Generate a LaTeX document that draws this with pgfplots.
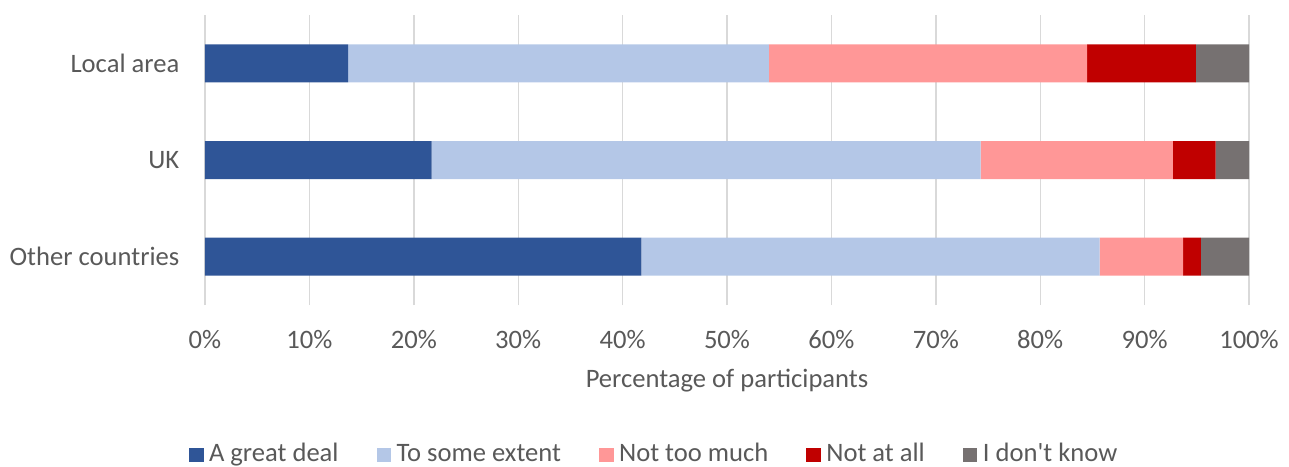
\documentclass[border=0pt]{standalone}
\usepackage{fontspec}
\setmainfont{Carlito}[Ligatures=TeXOff]
\usepackage{pgfplots}
\pgfplotsset{compat=1.18}

\definecolor{cGreat}{HTML}{2F5597}
\definecolor{cSome}{HTML}{B4C7E7}
\definecolor{cNotMuch}{HTML}{FF9797}
\definecolor{cNotAll}{HTML}{C00000}
\definecolor{cDK}{HTML}{767171}
\definecolor{txt}{HTML}{595959}
\definecolor{gridc}{HTML}{D9D9D9}

\newcommand{\lbl}{\fontsize{26.6pt}{30pt}\selectfont}

\begin{document}
\lbl
\begin{tikzpicture}
\path[use as bounding box] (-205pt,-161pt) rectangle (1084pt,305pt);
\begin{axis}[
    at={(0,0)}, anchor=south west,
    scale only axis,
    width=1044pt, height=290pt,
    xbar stacked,
    bar width=38pt,
    xmin=0, xmax=100,
    ymin=-0.5, ymax=2.5,
    xtick={0,10,...,100},
    xticklabels={0\%,10\%,20\%,30\%,40\%,50\%,60\%,70\%,80\%,90\%,100\%},
    ytick={0,1,2},
    yticklabels={Other countries,UK,Local area},
    xmajorgrids,
    grid style={draw=gridc, line width=1.4pt},
    axis line style={draw=none},
    tick style={draw=none},
    ticklabel style={font=\lbl, text=txt, inner sep=0pt},
    xticklabel style={anchor=base, yshift=-43.3pt},
    yticklabel style={anchor=base east, xshift=-25.5pt, yshift=-8.7pt},
    xlabel={Percentage of participants},
    xlabel style={at={(axis description cs:0.5,0)}, anchor=base, yshift=-82.3pt,
        font=\lbl, text=txt, inner sep=0pt},
    legend columns=-1,
    legend image code/.code={\fill[#1] (0pt,0pt) rectangle (14.5pt,14pt);},
    legend style={
        at={(rel axis cs:-0.0155,-0.555)}, anchor=south west,
        draw=none, fill=none, inner sep=0pt,
        font=\lbl, text=txt,
        cells={anchor=base west},
        nodes={inner sep=0pt},
        column sep=5.5pt,
        /tikz/every even column/.append style={column sep=38pt},
    },
]
\addplot[fill=cGreat, draw=none] coordinates {(41.8,0) (21.7,1) (13.7,2)};
\addlegendentry{A great deal}
\addplot[fill=cSome, draw=none] coordinates {(43.9,0) (52.6,1) (40.3,2)};
\addlegendentry{To some extent}
\addplot[fill=cNotMuch, draw=none] coordinates {(8.0,0) (18.4,1) (30.5,2)};
\addlegendentry{Not too much}
\addplot[fill=cNotAll, draw=none] coordinates {(1.7,0) (4.1,1) (10.4,2)};
\addlegendentry{Not at all}
\addplot[fill=cDK, draw=none] coordinates {(4.6,0) (3.2,1) (5.1,2)};
\addlegendentry{I don't know}
\end{axis}
\end{tikzpicture}
\end{document}
